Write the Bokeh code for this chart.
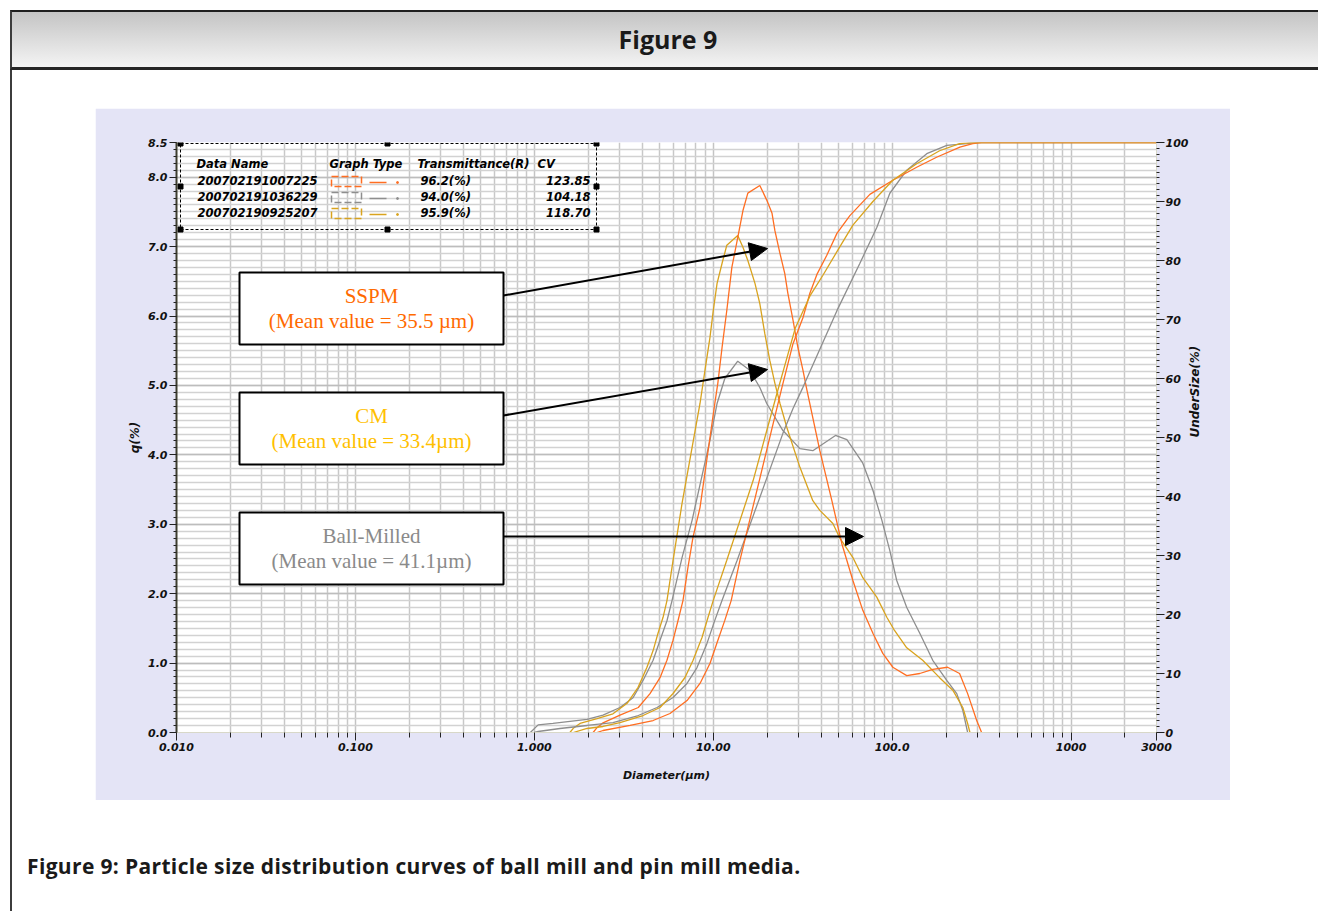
import numpy as np
from bokeh.plotting import figure
from bokeh.models import (Range1d, LinearAxis, FixedTicker, CustomJSTickFormatter,
                          BoxAnnotation, Label, Arrow, NormalHead, Div)
from bokeh.layouts import column, row
from bokeh.embed import file_html
from bokeh.resources import INLINE

# ---------------- data ----------------
# frequency q(%) curves
sspm_d = [2.13, 2.24, 2.42, 3.01, 3.81, 4.43, 5.04, 5.51, 5.96, 6.35, 6.77, 7.22, 7.70, 8.43,
          10.2, 10.6, 11.2, 11.9, 12.7, 13.7, 14.65, 15.6, 18.2, 19.9, 21.3, 22.1, 23.6, 25.1,
          26.1, 27.9, 29.7, 31.7, 33.4, 39.4, 46.0, 52.3, 60.3, 68.5, 78.0, 88.6, 100.8, 120.6,
          142.6, 168.5, 204, 238, 264, 297, 316]
sspm_q = [0.0, 0.07, 0.14, 0.25, 0.36, 0.56, 0.79, 1.04, 1.33, 1.61, 1.90, 2.38, 2.81, 3.24,
          4.74, 5.03, 5.55, 6.08, 6.70, 7.13, 7.52, 7.77, 7.88, 7.67, 7.48, 7.23, 6.90, 6.61,
          6.33, 5.94, 5.55, 5.22, 4.93, 4.06, 3.34, 2.72, 2.19, 1.76, 1.43, 1.14, 0.94, 0.82,
          0.85, 0.91, 0.94, 0.85, 0.56, 0.17, 0.0]

bm_d = [0.95, 1.05, 1.27, 1.97, 2.42, 3.01, 3.56, 4.05, 4.61, 5.04, 5.51, 5.88, 6.69, 7.60,
        9.58, 10.5, 11.6, 13.7, 16.0, 18.2, 19.9, 24.5, 30.5, 36.0, 48.2, 55.8, 68.5, 78.0,
        87.5, 97.0, 106, 120.6, 142.6, 168.5, 201.8, 229.5, 248, 264]
bm_q = [0.0, 0.11, 0.13, 0.19, 0.25, 0.36, 0.50, 0.75, 1.04, 1.33, 1.61, 1.90, 2.52, 3.05,
        4.21, 4.74, 5.10, 5.35, 5.22, 4.97, 4.74, 4.35, 4.09, 4.06, 4.28, 4.22, 3.88, 3.49,
        3.06, 2.62, 2.19, 1.80, 1.43, 1.04, 0.75, 0.56, 0.32, 0.0]

cm_d = [1.58, 1.65, 1.80, 2.24, 2.75, 3.30, 3.80, 4.26, 4.61, 4.91, 5.24, 5.51, 5.96, 6.69,
        8.43, 8.99, 9.58, 10.0, 10.5, 11.2, 11.9, 13.7, 14.65, 15.6, 17.1, 18.2, 19.4, 20.7,
        22.1, 23.6, 25.8, 30.5, 36.0, 39.4, 46.6, 51.0, 60.3, 68.5, 82.0, 93.3, 103, 120.6,
        148, 184, 218, 248, 264, 272]
cm_q = [0.0, 0.06, 0.13, 0.20, 0.27, 0.42, 0.65, 0.94, 1.18, 1.43, 1.66, 1.90, 2.48, 3.30,
        4.74, 5.22, 5.69, 6.08, 6.47, 6.76, 7.02, 7.16, 6.99, 6.80, 6.47, 6.18, 5.75, 5.36,
        5.03, 4.74, 4.39, 3.82, 3.34, 3.20, 3.01, 2.80, 2.52, 2.23, 1.95, 1.66, 1.47, 1.22,
        1.04, 0.79, 0.61, 0.36, 0.13, 0.0]

# cumulative undersize (%) curves
sspm_cd = [2.24, 2.42, 3.43, 4.61, 5.73, 7.13, 8.43, 9.58, 10.6, 11.6, 12.6, 14.1, 24.2, 27.9,
           31.7, 34.7, 37.9, 43.1, 49.1, 58.0, 75.0, 100.8, 137, 177, 239, 282, 316, 3000]
sspm_u = [0.0, 0.34, 1.19, 2.03, 3.22, 5.42, 8.31, 11.7, 15.6, 19.0, 22.4, 29.2, 58.5, 65.9,
          70.3, 74.5, 77.6, 80.9, 84.6, 87.6, 91.2, 93.6, 95.8, 97.5, 99.2, 99.8, 100, 100]

bm_cd = [1.0, 1.05, 1.39, 1.97, 2.75, 3.81, 4.85, 5.96, 7.13, 8.11, 9.22, 10.2, 11.2, 13.6,
         24.5, 27.9, 31.7, 49.1, 65.9, 82.0, 97.0, 120.6, 156, 202, 261, 300, 3000]
bm_u = [0.0, 0.17, 0.68, 1.19, 1.69, 2.88, 4.24, 5.93, 8.31, 11.0, 15.1, 19.0, 22.4, 29.2,
        50.7, 54.9, 58.5, 71.5, 79.5, 85.6, 91.4, 95.3, 98.1, 99.5, 99.8, 100, 100]

cm_cd = [1.65, 1.97, 2.42, 3.01, 4.05, 5.04, 5.96, 6.95, 7.70, 8.65, 9.34, 10.0, 11.9, 16.7,
         22.7, 28.7, 34.7, 41.0, 49.1, 60.3, 78.0, 100.8, 137, 184, 238, 280, 3000]
cm_u = [0.0, 0.68, 1.02, 1.69, 2.88, 4.24, 6.61, 9.32, 12.2, 16.1, 19.5, 22.4, 29.2, 42.7,
        57.5, 68.5, 74.0, 77.5, 81.5, 86.0, 90.0, 93.6, 96.4, 98.6, 99.8, 100, 100]

# tick values / labels
x_ticks = [0.01, 0.1, 1, 10, 100, 1000, 3000]
x_tick_labels = ["0.010", "0.100", "1.000", "10.00", "100.0", "1000", "3000"]
q_ticks = [0, 1, 2, 3, 4, 5, 6, 7, 8, 8.5]
q_tick_labels = ["0.0", "1.0", "2.0", "3.0", "4.0", "5.0", "6.0", "7.0", "8.0", "8.5"]
u_ticks = [0, 10, 20, 30, 40, 50, 60, 70, 80, 90, 100]
u_tick_labels = ["0", "10", "20", "30", "40", "50", "60", "70", "80", "90", "100"]

# legend table texts
legend_header = ["Data Name", "Graph Type", "Transmittance(R)", "CV"]
legend_names = ["200702191007225", "200702191036229", "200702190925207"]
legend_trans = ["96.2(%)", "94.0(%)", "95.9(%)"]
legend_cv = ["123.85", "104.18", "118.70"]

# annotation boxes
box_titles = ["SSPM", "CM", "Ball-Milled"]
box_means = ["(Mean value = 35.5 \u00b5m)", "(Mean value = 33.4\u00b5m)", "(Mean value = 41.1\u00b5m)"]

# ---------------- styling ----------------
ORANGE = "#FF6E22"
GRAY = "#8E8E8E"
GOLD = "#D9A31E"
TXT_ORANGE = "#FF6A00"
TXT_GOLD = "#FFC000"
TXT_GRAY = "#8A8A8A"
LAV = "#E4E4F6"
AX_FONT = "DejaVu Sans"

W, H = 1135, 692
ML, MR, MT, MB = 81, 74, 34, 68
FW, FH = W - ML - MR, H - MT - MB
X0, X1 = 0.01, 3000
Q0, Q1 = 0.0, 8.5

LX0, LX1 = np.log10(X0), np.log10(X1)


def fx(px):
    """frame pixel offset (from left) -> data x (log)"""
    return 10 ** (LX0 + px / FW * (LX1 - LX0))


def fy(py):
    """frame pixel offset (from top) -> data q"""
    return Q1 * (1 - py / FH)


def lab_fmt(vals, labs):
    return CustomJSTickFormatter(args=dict(vals=vals, labs=labs), code="""
        for (let i = 0; i < vals.length; i++) {
            if (Math.abs(vals[i] - tick) <= 1e-9 * Math.max(1, Math.abs(vals[i]))) return labs[i];
        }
        return "";
    """)


p = figure(width=W, height=H, x_axis_type="log",
           x_range=Range1d(X0, X1), y_range=Range1d(Q0, Q1),
           output_backend="svg", toolbar_location=None,
           min_border_left=ML, min_border_right=MR, min_border_top=MT, min_border_bottom=MB,
           border_fill_color=LAV, background_fill_color="white", outline_line_color=None)
p.margin = (0, 0, 0, 0)
p.extra_y_ranges = {"cum": Range1d(0, 100)}

x_minor = [m * 10.0 ** e for e in range(-2, 4) for m in range(2, 10) if m * 10.0 ** e < 3000]
q_minor = [i / 10 for i in range(0, 86)]
u_minor = list(range(0, 101))

# bottom axis
xa = p.xaxis[0]
xa.ticker = FixedTicker(ticks=x_ticks, minor_ticks=x_minor)
xa.formatter = lab_fmt(x_ticks, x_tick_labels)
xa.axis_label = "Diameter(\u00b5m)"
xa.axis_label_standoff = 15

# left axis
ya = p.yaxis[0]
ya.ticker = FixedTicker(ticks=q_ticks, minor_ticks=q_minor)
ya.formatter = lab_fmt(q_ticks, q_tick_labels)
ya.axis_label = "q(%)"
ya.axis_label_standoff = 3

# right axis
ra = LinearAxis(y_range_name="cum", ticker=FixedTicker(ticks=u_ticks, minor_ticks=u_minor),
                formatter=lab_fmt(u_ticks, u_tick_labels), axis_label="UnderSize(%)")
ra.axis_label_standoff = 4
ra.axis_label_orientation = np.pi / 2
p.add_layout(ra, "right")

for ax in (xa, ya, ra):
    ax.major_label_text_font = AX_FONT
    ax.major_label_text_font_style = "bold italic"
    ax.major_label_text_font_size = "11px"
    ax.major_label_text_color = "#111111"
    ax.axis_label_text_font = AX_FONT
    ax.axis_label_text_font_style = "bold italic"
    ax.axis_label_text_font_size = "11px"
    ax.axis_label_text_color = "#111111"
    ax.major_tick_in = 0
    ax.minor_tick_in = 0
    ax.major_tick_line_color = "#222222"
    ax.minor_tick_line_color = "#222222"

xa.major_tick_out = 8
xa.minor_tick_out = 5
xa.major_label_standoff = 2
xa.axis_line_color = "#d8d8c8"

ya.major_tick_out = 7
ya.minor_tick_out = 3
ya.major_label_standoff = 2
ya.axis_line_color = "#3e3e30"
ya.axis_line_width = 2

ra.major_tick_out = 8
ra.minor_tick_out = 3
ra.major_label_standoff = 1
ra.axis_line_color = "#d8d8c8"
ra.axis_label_text_font_size = "12px"
ya.axis_label_text_font_size = "12px"

# grids
p.xgrid.grid_line_color = "#c4c4c4"
p.xgrid.minor_grid_line_color = "#c8c8c8"
p.xgrid.grid_line_width = 1.5
p.xgrid.minor_grid_line_width = 1.5
p.ygrid.grid_line_color = "#bdbdbd"
p.ygrid.minor_grid_line_color = "#d2d2d2"
p.ygrid.grid_line_width = 1.3
p.ygrid.minor_grid_line_width = 1.3

# curves
for d, q, c in [(bm_d, bm_q, GRAY), (cm_d, cm_q, GOLD), (sspm_d, sspm_q, ORANGE)]:
    p.line(d, q, line_color=c, line_width=1.3)
for d, u, c in [(bm_cd, bm_u, GRAY), (sspm_cd, sspm_u, ORANGE), (cm_cd, cm_u, GOLD)]:
    p.line(d, u, line_color=c, line_width=1.3, y_range_name="cum")

# ---------------- legend table (top-left) ----------------
p.add_layout(BoxAnnotation(left=fx(4), right=fx(420), top=fy(1), bottom=fy(87),
                           fill_alpha=0, line_color="black", line_alpha=1, line_width=1,
                           line_dash="3 2"))
hx = [fx(4), fx(211), fx(420)]
hy = [fy(1), fy(44), fy(87)]
p.scatter([hx[0], hx[1], hx[2], hx[0], hx[2], hx[0], hx[1], hx[2]],
          [hy[0], hy[0], hy[0], hy[1], hy[1], hy[2], hy[2], hy[2]],
          marker="square", size=5, color="black")

lab_kw = dict(text_font=AX_FONT, text_font_style="bold italic", text_font_size="11.5px",
              text_color="black", text_baseline="middle")
for txt, px in zip(legend_header, [20, 153, 241, 361]):
    p.add_layout(Label(x=fx(px), y=fy(21), text=txt, **lab_kw))
row_y = [38, 54, 70]
for i, (nm, tr, cv, c) in enumerate(zip(legend_names, legend_trans, legend_cv,
                                          [ORANGE, GRAY, GOLD])):
    yy = row_y[i]
    p.add_layout(Label(x=fx(21), y=fy(yy), text=nm, **lab_kw))
    p.add_layout(Label(x=fx(244), y=fy(yy), text=tr, **lab_kw))
    p.add_layout(Label(x=fx(414), y=fy(yy), text=cv, text_align="right", **lab_kw))
    p.add_layout(BoxAnnotation(left=fx(155), right=fx(185), top=fy(yy - 4), bottom=fy(yy + 6),
                               fill_alpha=0, line_color=c, line_alpha=1, line_width=1.5,
                               line_dash="7 3"))
    p.segment(x0=[fx(193)], y0=[fy(yy + 2)], x1=[fx(210)], y1=[fy(yy + 2)],
              line_color=c, line_width=1.5)
    p.scatter([fx(221)], [fy(yy + 2)], marker="circle", size=2, color=c)

# ---------------- annotation boxes & arrows ----------------
box_tops = [130, 250, 370]
txt_cols = [TXT_ORANGE, TXT_GOLD, TXT_GRAY]
arrow_start = [(327, 153), (327, 273), (327, 394)]
arrow_end = [(591, 106), (591, 227), (687, 394)]
for i in range(3):
    t = box_tops[i]
    p.add_layout(BoxAnnotation(left=fx(63), right=fx(327), top=fy(t), bottom=fy(t + 72),
                               fill_color="white", fill_alpha=1, line_color="black",
                               line_alpha=1, line_width=2))
    for txt, off in [(box_titles[i], 23), (box_means[i], 48)]:
        p.add_layout(Label(x=fx(195), y=fy(t + off), text=txt, text_align="center",
                           text_baseline="middle", text_font="Liberation Serif",
                           text_font_size="21px", text_color=txt_cols[i]))
    (sx, sy), (ex, ey) = arrow_start[i], arrow_end[i]
    p.add_layout(Arrow(x_start=fx(sx), y_start=fy(sy), x_end=fx(ex), y_end=fy(ey),
                       line_color="black", line_width=2,
                       end=NormalHead(size=18, fill_color="black", line_color="black")))

# ---------------- page decorations ----------------
PAGE_W = 1318
title_div = Div(width=PAGE_W, height=70, margin=(0, 0, 0, 0), text=(
    '<div style="margin-left:10px;margin-top:10px;width:%dpx;height:60px;box-sizing:border-box;'
    'border-top:2px solid #1e1e1e;border-left:2px solid #3c3c3c;border-bottom:3px solid #262626;'
    'background:linear-gradient(to bottom,#c4c4c4,#f4f4f4);text-align:center;padding-left:6px;'
    'font-family:\'Open Sans\';font-weight:bold;font-size:25px;line-height:55px;color:#1a1a1a;">'
    'Figure 9</div>' % (PAGE_W - 10)))
gap_div = Div(width=PAGE_W, height=38, margin=(0, 0, 0, 0), text=(
    '<div style="margin-left:10px;width:2px;height:38px;background:#3c3c3c;"></div>'))
left_div = Div(width=95, height=H, margin=(0, 0, 0, 0), text=(
    '<div style="margin-left:10px;width:2px;height:%dpx;background:#3c3c3c;"></div>' % H))
cap_div = Div(width=PAGE_W, height=111, margin=(0, 0, 0, 0), text=(
    '<div style="margin-left:10px;height:111px;box-sizing:border-box;border-left:2px solid #3c3c3c;'
    'padding-left:15px;padding-top:54px;font-family:\'Open Sans\';font-weight:bold;font-size:21px;'
    'letter-spacing:0.35px;line-height:25px;color:#1a1a1a;white-space:nowrap;">'
    'Figure 9: Particle size distribution curves of ball mill and pin mill media.</div>'))

layout = column(title_div, gap_div, row(left_div, p), cap_div)

open("out.html", "w").write(file_html(layout, INLINE))
